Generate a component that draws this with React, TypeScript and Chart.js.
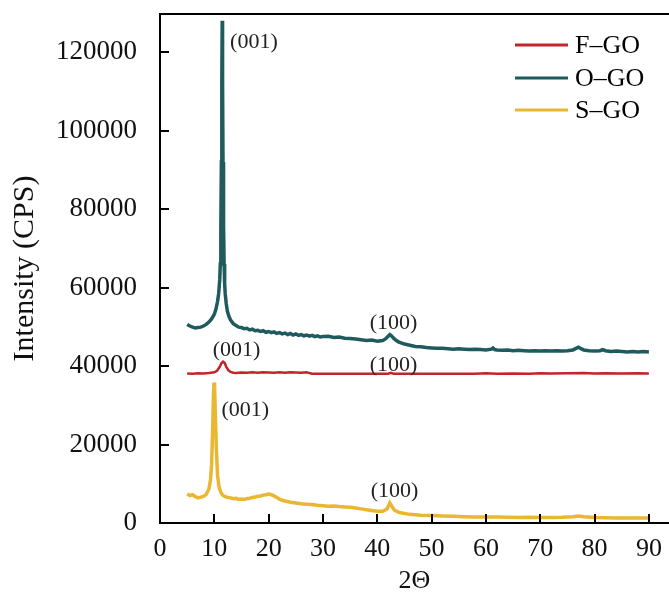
import { useEffect, useRef } from 'react';
import { Chart, registerables } from 'chart.js';

Chart.register(...registerables);

const FONT = "'Liberation Serif', 'Times New Roman', serif";

const X_TICKS = [0, 10, 20, 30, 40, 50, 60, 70, 80, 90];
const Y_TICKS = [0, 20000, 40000, 60000, 80000, 100000, 120000];

const SERIES_NAMES = ['F–GO', 'O–GO', 'S–GO'];
const SERIES_COLORS = ['#C0262B', '#1F5B5D', '#EAB730'];

const F_X = [5, 6, 7, 8, 9, 10, 10.5, 11, 11.3, 11.6, 11.9, 12.2, 12.6, 13, 13.5, 14, 15, 16, 17, 18, 19, 20, 21, 22, 23, 24, 25, 26, 27, 27.5, 28, 30, 32, 34, 36, 38, 40, 42, 42.5, 43, 45, 50, 55, 58, 60, 62, 65, 68, 70, 72, 75, 78, 80, 82, 85, 88, 90];
const F_Y = [38100, 38050, 38150, 38100, 38200, 38400, 38800, 39800, 40700, 41100, 40800, 39800, 38900, 38500, 38300, 38200, 38350, 38300, 38400, 38300, 38400, 38350, 38300, 38400, 38300, 38400, 38350, 38300, 38400, 38200, 38050, 38050, 38000, 38050, 38000, 38050, 38000, 38050, 38250, 38050, 38000, 38000, 38000, 38000, 38150, 38050, 38100, 38050, 38150, 38100, 38150, 38200, 38100, 38150, 38100, 38150, 38100];

const O_X = [5, 5.5, 6, 6.5, 7, 7.5, 8, 8.5, 9, 9.5, 10, 10.3, 10.6, 10.8, 11, 11.1, 11.2, 11.3, 11.38, 11.45, 11.52, 11.6, 11.7, 11.8, 11.9, 12, 12.2, 12.4, 12.7, 13, 13.5, 14, 14.5, 15, 15.5, 16, 16.5, 17, 17.5, 18, 18.5, 19, 19.5, 20, 20.5, 21, 21.5, 22, 22.5, 23, 23.5, 24, 24.5, 25, 25.5, 26, 26.5, 27, 27.5, 28, 28.5, 29, 29.5, 30, 31, 32, 33, 34, 35, 36, 37, 38, 39, 40, 41, 41.5, 42, 42.3, 42.6, 43, 43.5, 44, 45, 46, 47, 48, 49, 50, 51, 52, 53, 54, 55, 56, 57, 58, 59, 60, 61, 61.3, 61.6, 62, 63, 64, 65, 66, 67, 68, 69, 70, 71, 72, 73, 74, 75, 76, 76.6, 77, 77.4, 78, 79, 80, 81, 81.5, 82, 83, 84, 85, 86, 87, 88, 89, 90];
const O_Y = [50600, 50200, 49900, 49700, 49800, 49900, 50200, 50600, 51200, 52000, 53200, 54500, 56500, 58500, 62000, 66000, 75000, 92000, 112000, 128000, 112000, 92000, 76000, 66000, 61000, 58500, 55800, 54000, 52600, 51700, 50800, 50300, 49900, 49800, 49500, 49600, 49200, 49400, 49000, 49100, 48800, 49000, 48600, 48800, 48500, 48700, 48300, 48500, 48200, 48400, 48000, 48300, 47900, 48200, 47800, 48000, 47700, 47900, 47600, 47800, 47500, 47700, 47400, 47500, 47600, 47300, 47400, 47100, 47000, 46900, 46700, 46500, 46600, 46300, 46500, 46900, 47600, 48000, 47700, 47100, 46500, 46100, 45600, 45300, 45000, 44900, 44700, 44600, 44500, 44500, 44400, 44300, 44400, 44300, 44200, 44300, 44200, 44100, 44300, 44600, 44200, 44100, 44000, 44100, 43900, 44000, 43900, 43800, 43900, 43800, 43900, 43800, 43900, 43800, 43900, 44100, 44500, 44800, 44500, 44100, 43900, 43800, 43900, 44200, 43900, 43700, 43800, 43700, 43600, 43700, 43600, 43700, 43600];

const S_X = [5, 5.5, 6, 6.5, 7, 7.5, 8, 8.5, 9, 9.3, 9.5, 9.7, 9.85, 9.95, 10.05, 10.2, 10.4, 10.6, 10.9, 11.2, 11.6, 12, 12.5, 13, 13.5, 14, 14.5, 15, 15.5, 16, 16.5, 17, 17.5, 18, 18.5, 19, 19.5, 20, 20.5, 21, 21.5, 22, 22.5, 23, 24, 25, 26, 27, 28, 29, 30, 31, 32, 33, 34, 35, 36, 37, 38, 39, 40, 41, 41.8, 42.3, 42.7, 43.2, 44, 45, 46, 47, 48, 50, 52, 54, 56, 58, 60, 62, 64, 66, 68, 70, 72, 74, 76, 77, 78, 80, 82, 84, 86, 88, 90];
const S_Y = [7400, 7000, 7200, 6700, 6400, 6600, 6800, 7300, 8600, 11000, 15000, 24000, 33000, 35800, 34500, 27000, 18000, 12000, 9000, 7800, 7000, 6700, 6500, 6400, 6200, 6300, 6000, 6100, 6000, 6200, 6300, 6500, 6600, 6800, 6900, 7100, 7200, 7400, 7200, 6900, 6500, 6100, 5800, 5600, 5300, 5100, 4900, 4800, 4700, 4500, 4400, 4300, 4350, 4200, 4100, 4000, 3800, 3600, 3400, 3200, 3000, 3000, 3600, 5100, 4200, 3200, 2700, 2400, 2200, 2100, 2000, 1900, 1800, 1700, 1600, 1550, 1500, 1500, 1450, 1400, 1450, 1400, 1400, 1450, 1600, 1800, 1600, 1400, 1350, 1300, 1300, 1250, 1250];

const NOTE_TEXT = ['(001)', '(100)', '(001)', '(100)', '(001)', '(100)'];
const NOTE_X = [12.9, 38.6, 9.7, 38.6, 11.3, 38.8];
const NOTE_Y = [122500, 50900, 44100, 40300, 28800, 8200];

function pts(xs: number[], ys: number[]) {
  return xs.map((x, i) => ({ x, y: ys[i] }));
}

const framePlugin = {
  id: 'frame',
  afterDraw(chart: any) {
    const { ctx, chartArea } = chart;
    const xs = chart.scales.x;
    const ys = chart.scales.y;
    ctx.save();
    ctx.strokeStyle = '#000';
    ctx.lineWidth = 2;
    ctx.beginPath();
    ctx.moveTo(chartArea.left - 1, chartArea.top);
    ctx.lineTo(chartArea.right, chartArea.top);
    for (const v of Y_TICKS) {
      const py = Math.round(ys.getPixelForValue(v));
      ctx.moveTo(chartArea.left, py);
      ctx.lineTo(chartArea.left + 9, py);
    }
    for (const v of X_TICKS) {
      const px = Math.round(xs.getPixelForValue(v));
      ctx.moveTo(px, chartArea.bottom);
      ctx.lineTo(px, chartArea.bottom - 9);
    }
    ctx.stroke();

    ctx.fillStyle = '#222';
    ctx.font = `22px ${FONT}`;
    ctx.textAlign = 'left';
    ctx.textBaseline = 'middle';
    NOTE_TEXT.forEach((t, i) => {
      ctx.fillText(t, xs.getPixelForValue(NOTE_X[i]), ys.getPixelForValue(NOTE_Y[i]));
    });

    const rows = [45, 78, 110];
    ctx.font = `26px ${FONT}`;
    ctx.fillStyle = '#000';
    chart.data.datasets.forEach((ds: any, i: number) => {
      ctx.strokeStyle = ds.borderColor;
      ctx.lineWidth = 3;
      ctx.beginPath();
      ctx.moveTo(515, rows[i]);
      ctx.lineTo(568, rows[i]);
      ctx.stroke();
      ctx.fillText(ds.label, 575, rows[i] + 1);
    });
    ctx.restore();
  },
};

export default function App() {
  const ref = useRef<HTMLCanvasElement | null>(null);
  useEffect(() => {
    if (!ref.current) return;
    const chart = new Chart(ref.current, {
      type: 'line',
      data: {
        datasets: [
          { label: SERIES_NAMES[0], data: pts(F_X, F_Y), borderColor: SERIES_COLORS[0], borderWidth: 2.5, pointRadius: 0, tension: 0 },
          { label: SERIES_NAMES[1], data: pts(O_X, O_Y), borderColor: SERIES_COLORS[1], borderWidth: 3.5, pointRadius: 0, tension: 0 },
          { label: SERIES_NAMES[2], data: pts(S_X, S_Y), borderColor: SERIES_COLORS[2], borderWidth: 3.5, pointRadius: 0, tension: 0 },
        ],
      },
      options: {
        responsive: false,
        animation: false,
        layout: { padding: { top: 14, right: 0, left: 0, bottom: 0 } },
        plugins: { legend: { display: false }, tooltip: { enabled: false } },
        scales: {
          x: {
            type: 'linear',
            min: 0,
            max: 93.7,
            afterBuildTicks: (s: any) => { s.ticks = X_TICKS.map((v) => ({ value: v })); },
            afterFit: (s: any) => { s.height = 81; s.paddingLeft = 0; s.paddingRight = 0; },
            ticks: { font: { family: FONT, size: 26 }, color: '#111', padding: 11, maxRotation: 0, autoSkip: false, callback: (v: any) => String(v) },
            grid: { drawOnChartArea: false, drawTicks: false },
            border: { color: '#000', width: 2 },
            title: { display: true, text: '2Θ', font: { family: FONT, size: 26 }, color: '#111', padding: { top: 0, bottom: 7 } },
          },
          y: {
            type: 'linear',
            min: 0,
            max: 129700,
            afterBuildTicks: (s: any) => { s.ticks = Y_TICKS.map((v) => ({ value: v })); },
            afterFit: (s: any) => { s.width = 160; s.paddingTop = 0; s.paddingBottom = 0; },
            ticks: { font: { family: FONT, size: 27 }, color: '#111', padding: 23, autoSkip: false, callback: (v: any) => String(v) },
            grid: { drawOnChartArea: false, drawTicks: false },
            border: { color: '#000', width: 2 },
            title: { display: true, text: 'Intensity (CPS)', font: { family: FONT, size: 30 }, color: '#111', padding: { top: 7, bottom: 0 } },
          },
        },
      },
      plugins: [framePlugin],
    } as any);
    return () => chart.destroy();
  }, []);
  return (
    <div style={{ position: 'absolute', left: 0, top: 0, width: 669, height: 604, background: '#fff' }}>
      <canvas ref={ref} width={669} height={604} style={{ display: 'block' }} />
    </div>
  );
}
